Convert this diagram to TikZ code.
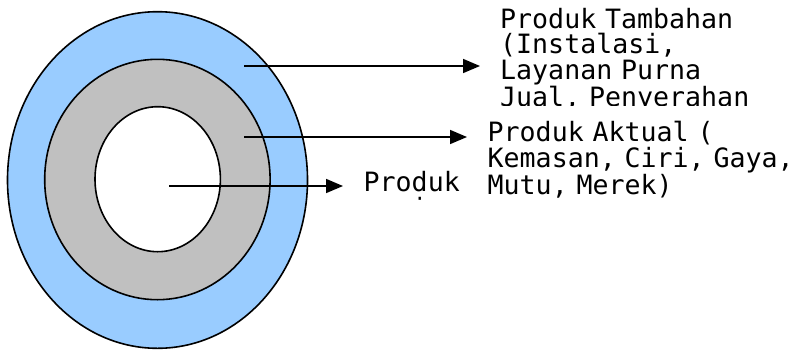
\documentclass[tikz,border=0pt]{standalone}
\usepackage{fontspec}
\setmonofont{DejaVu Sans Mono}
\usetikzlibrary{arrows.meta}
\definecolor{ringblue}{HTML}{99CCFF}
\definecolor{ringgray}{HTML}{C0C0C0}
\begin{document}
\begin{tikzpicture}[x=1pt,y=-1pt,
  ring/.style={draw=black, line width=1.6pt},
  pointer/.style={draw=black, line width=1.6pt, -{Triangle[length=17pt,width=14pt]}},
  lab/.style={font=\ttfamily\fontsize{26.6}{25.7}\selectfont, inner sep=0pt,
              anchor=base west, text width=340pt, align=left}]
\useasboundingbox (0,0) rectangle (805,349);

% three concentric product levels
\coordinate (centre) at (157.5,180);
\fill[white] (0,0) rectangle (805,349);
\draw[ring, fill=ringblue] (centre) ellipse (150 and 168.3);
\draw[ring, fill=ringgray] (157.4,179.5) ellipse (112.7 and 120.2);
\draw[ring, fill=white]    (157.7,179.2) ellipse (62.7 and 72.5);

% labels (the text frames cut off their last lines)
\begin{scope}
  \clip (480,0) rectangle (805,105);
  \node[lab] (tambahan) at (500,28)
    {Produk Tambahan\\(Instalasi,\\Layanan Purna\\Jual, Penyerahan};
\end{scope}
\node[lab] (aktual) at (487.5,141.7)
  {Produk Aktual (\\Kemasan, Ciri, Gaya,\\Mutu, Merek)};
\begin{scope}
  % only the dot of the last letter of the second line shows
  \clip (350,150) rectangle (480,194) (411.5,194) rectangle (427.5,200);
  \node[lab] (inti) at (363.5,191.7) {Produk\\Inti};
\end{scope}

% pointers from each ring to its label
\coordinate (s1) at (244,66);   \coordinate (e1) at (480,66);
\coordinate (s2) at (244,137);  \coordinate (e2) at (467,137);
\coordinate (s3) at (169,186);  \coordinate (e3) at (343,186);
\draw[pointer] (s1) -- (e1);
\draw[pointer] (s2) -- (e2);
\draw[pointer] (s3) -- (e3);
\end{tikzpicture}
\end{document}
